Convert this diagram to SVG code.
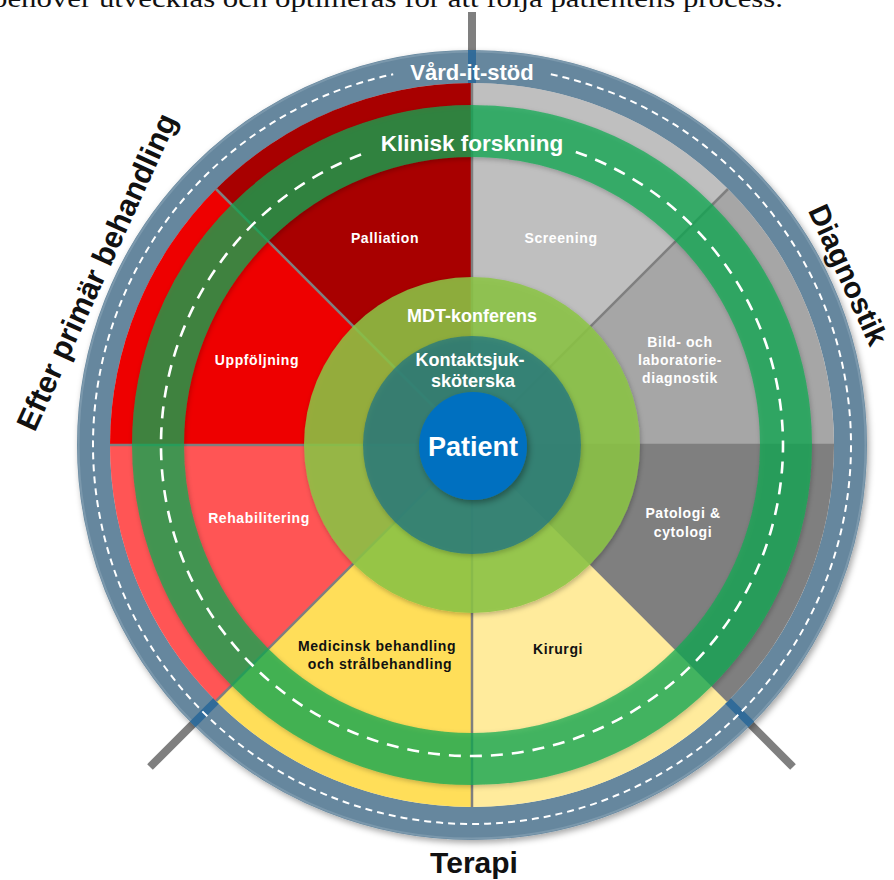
<svg xmlns="http://www.w3.org/2000/svg" width="894" height="880" viewBox="0 0 894 880">
<defs>
<style>
.lbl{font-family:"Liberation Sans",Arial,sans-serif;font-weight:bold;font-size:14px;letter-spacing:0.6px;text-anchor:middle}
.w{fill:#ffffff}
.k{fill:#111111}
.big{font-family:"Liberation Sans",Arial,sans-serif;font-weight:bold;text-anchor:middle}
.sep{stroke:#7f7f7f;stroke-width:2.5;fill:none}
.axis{stroke:#7f7f7f;stroke-width:8;fill:none}
.axisb{stroke:#2b6898;stroke-width:8;fill:none;stroke-opacity:0.9}
</style>
<filter id="sh" x="-20%" y="-20%" width="140%" height="140%">
<feDropShadow dx="2" dy="3" stdDeviation="3" flood-color="#000" flood-opacity="0.35"/>
</filter>
<filter id="sh2" x="-20%" y="-20%" width="140%" height="140%">
<feDropShadow dx="1" dy="2" stdDeviation="2.5" flood-color="#000" flood-opacity="0.3"/>
</filter>
</defs>
<rect width="894" height="880" fill="#ffffff"/>
<text x="-8" y="7" font-family="'Liberation Serif','Times New Roman',serif" font-size="26" fill="#111" textLength="791" lengthAdjust="spacingAndGlyphs">behöver utvecklas och optimeras för att följa patientens process.</text>

<g id="connectors">
<line class="axis" x1="472" y1="12" x2="472" y2="445"/>
<line class="axis" x1="150" y1="767" x2="472" y2="445"/>
<line class="axis" x1="793" y1="767" x2="472" y2="445"/>
</g>

<g id="vard-it-stod">
<circle cx="472" cy="445" r="378.5" fill="none" stroke="#66879e" stroke-width="33" filter="url(#sh)"/>
<circle cx="472" cy="445" r="393.5" fill="none" stroke="#88a3b6" stroke-width="2" stroke-opacity="0.6"/>
<line class="axisb" x1="472" y1="50" x2="472" y2="83"/>
<line class="axisb" x1="192.7" y1="724.3" x2="216" y2="701"/>
<line class="axisb" x1="751.3" y1="724.3" x2="728" y2="701"/>
<path d="M550.8,74.3 A379,379 0 1 1 393.2,74.3" fill="none" stroke="#ffffff" stroke-width="2" stroke-dasharray="7 5"/>
</g>

<g id="sectors">
<g id="screening"><path d="M472,445 L472,83 A362,362 0 0 1 728,189 Z" fill="#bfbfbf"/></g>
<g id="bild"><path d="M472,445 L728,189 A362,362 0 0 1 834,445 Z" fill="#a6a6a6"/></g>
<g id="patologi"><path d="M472,445 L834,445 A362,362 0 0 1 728,701 Z" fill="#7f7f7f"/></g>
<g id="kirurgi"><path d="M472,445 L728,701 A362,362 0 0 1 472,807 Z" fill="#ffeb9c"/></g>
<g id="medicinsk"><path d="M472,445 L472,807 A362,362 0 0 1 216,701 Z" fill="#ffde59"/></g>
<g id="rehabilitering"><path d="M472,445 L216,701 A362,362 0 0 1 110,445 Z" fill="#ff5555"/></g>
<g id="uppfoljning"><path d="M472,445 L110,445 A362,362 0 0 1 216,189 Z" fill="#ee0000"/></g>
<g id="palliation"><path d="M472,445 L216,189 A362,362 0 0 1 472,83 Z" fill="#a80000"/></g>
</g>
<g id="separators">
<line class="sep" x1="472" y1="445" x2="472" y2="83"/>
<line class="sep" x1="472" y1="445" x2="728" y2="189"/>
<line class="sep" x1="472" y1="445" x2="834" y2="445"/>
<line class="sep" x1="472" y1="445" x2="728" y2="701"/>
<line class="sep" x1="472" y1="445" x2="472" y2="807"/>
<line class="sep" x1="472" y1="445" x2="216" y2="701"/>
<line class="sep" x1="472" y1="445" x2="110" y2="445"/>
<line class="sep" x1="472" y1="445" x2="216" y2="189"/>
</g>

<g id="klinisk-forskning">
<circle cx="472" cy="445" r="314" fill="none" stroke="rgb(18,170,84)" stroke-opacity="0.73" stroke-width="52" filter="url(#sh2)"/>
<path d="M575.8,151.9 A311,311 0 1 1 368.2,151.9" fill="none" stroke="#ffffff" stroke-width="2.6" stroke-dasharray="12 9"/>
</g>

<g id="mdt">
<circle cx="472" cy="445" r="168" fill="rgb(140,198,70)" fill-opacity="0.85" filter="url(#sh2)"/>
</g>
<g id="kontakt">
<circle cx="472" cy="445" r="109" fill="rgb(32,116,132)" fill-opacity="0.7" filter="url(#sh2)"/>
</g>
<g id="patient">
<circle cx="473" cy="446" r="54" fill="#0070c0" filter="url(#sh)"/>
<text class="big w" x="473" y="456" font-size="27">Patient</text>
</g>

<g id="labels">
<text class="lbl w" x="385" y="243">Palliation</text>
<text class="lbl w" x="561" y="243">Screening</text>
<text class="lbl w" x="257" y="365">Uppföljning</text>
<text class="lbl w" x="680" y="347">Bild- och</text>
<text class="lbl w" x="680" y="365">laboratorie-</text>
<text class="lbl w" x="680" y="383">diagnostik</text>
<text class="lbl w" x="683" y="518">Patologi &amp;</text>
<text class="lbl w" x="683" y="537">cytologi</text>
<text class="lbl w" x="259" y="523">Rehabilitering</text>
<text class="lbl k" x="377" y="651">Medicinsk behandling</text>
<text class="lbl k" x="380" y="669">och strålbehandling</text>
<text class="lbl k" x="558" y="654">Kirurgi</text>
<text class="big w" x="472" y="322" font-size="18">MDT-konferens</text>
<text class="big w" x="470" y="366" font-size="18">Kontaktsjuk-</text>
<text class="big w" x="473" y="387" font-size="18">sköterska</text>
<text class="big w" x="472" y="151" font-size="22.5">Klinisk forskning</text>
<text class="big w" x="472" y="80" font-size="22">Vård-it-stöd</text>
</g>

<g id="phases">
<text class="big k" x="474" y="873" font-size="30">Terapi</text>
<text class="big k" font-size="29.5" transform="translate(848,275) rotate(65.5)" x="0" y="10">Diagnostik</text>
<text class="big k" font-size="30.5" transform="translate(97,272) rotate(-65.5)" x="0" y="10">Efter primär behandling</text>
</g>
</svg>
